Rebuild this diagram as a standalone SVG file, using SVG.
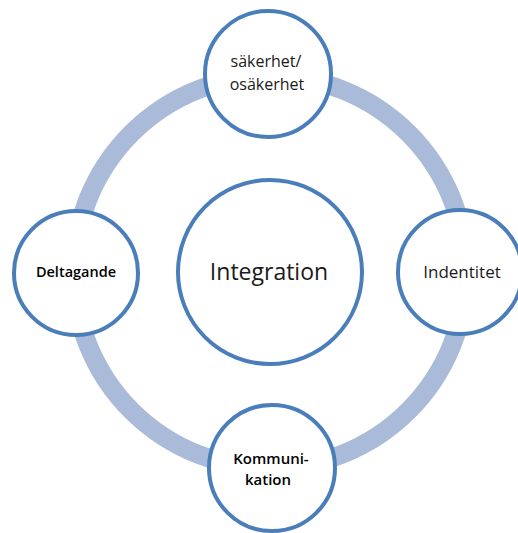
<svg xmlns="http://www.w3.org/2000/svg" width="518" height="533" viewBox="0 0 518 533">
  <style>
    .node { fill: #ffffff; stroke: #4a7ebb; stroke-width: 4; }
    .label { font-family: "Open Sans", "Liberation Sans", sans-serif; fill: #1a1a1a; text-anchor: middle; }
    .dark { fill: #000000; font-weight: 600; }
  </style>
  <rect width="518" height="533" fill="#ffffff"/>
  <g id="connectors">
    <circle cx="270" cy="272" r="196" fill="none" stroke="#a9bbd9" stroke-width="19"/>
  </g>
  <g id="integration">
    <circle class="node" cx="270" cy="272" r="92"/>
    <text class="label" x="269" y="280" font-size="23">Integration</text>
  </g>
  <g id="sakerhet">
    <circle class="node" cx="268" cy="74" r="63"/>
    <text class="label" x="266" y="67" font-size="16">säkerhet/</text>
    <text class="label" x="267" y="90" font-size="16">osäkerhet</text>
  </g>
  <g id="deltagande">
    <circle class="node" cx="76" cy="273" r="62"/>
    <text class="label dark" x="76" y="277" font-size="14.5">Deltagande</text>
  </g>
  <g id="indentitet">
    <circle class="node" cx="460" cy="272" r="62"/>
    <text class="label" x="462" y="278" font-size="17">Indentitet</text>
  </g>
  <g id="kommunikation">
    <circle class="node" cx="272" cy="468" r="63"/>
    <text class="label dark" x="271" y="464" font-size="15">Kommuni-</text>
    <text class="label dark" x="268" y="485" font-size="15">kation</text>
  </g>
</svg>
